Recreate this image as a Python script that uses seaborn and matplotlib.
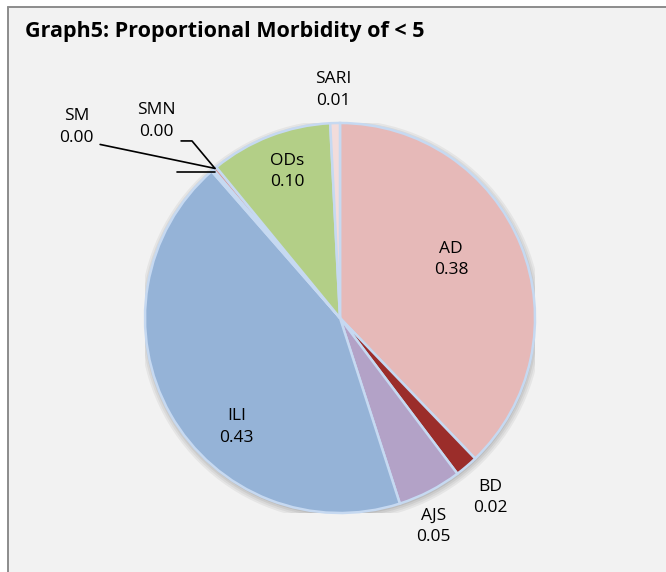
import matplotlib.pyplot as plt
import numpy as np
import seaborn as sns
from matplotlib.lines import Line2D
from matplotlib.patches import Circle, Rectangle

# slices clockwise from 12 o'clock
categories = ["AD", "BD", "AJS", "ILI", "SM", "SMN", "ODs", "SARI"]
shares = [0.377, 0.019, 0.053, 0.434, 0.002, 0.003, 0.101, 0.008]
slice_colors = ["#E6B9B8", "#9B2D2A", "#B3A2C7", "#95B3D7",
                "#B9CDE5", "#D99694", "#B3CF87", "#F2DCDB"]
title = "Graph5: Proportional Morbidity of < 5"

# label placement in pie-radius units, relative to the centre
label_pos = {
    "AD": (0.57, 0.30), "BD": (0.77, -0.92), "AJS": (0.48, -1.07),
    "ILI": (-0.53, -0.56), "SM": (-1.35, 0.98), "SMN": (-0.94, 1.01),
    "ODs": (-0.27, 0.75), "SARI": (-0.036, 1.17),
}

sns.set_theme(style="white")
plt.rcParams["font.family"] = ["Open Sans", "DejaVu Sans"]

W, H = 666, 572
fig = plt.figure(figsize=(W / 100, H / 100), dpi=100)
fig.patch.set_facecolor("white")

# chart panel: grey fill, border on the top and left edges only
fig.patches.append(Rectangle((8 / W, 0), 1, 1 - 7 / H, transform=fig.transFigure,
                             facecolor="#F2F2F2", edgecolor="none", zorder=-10))
fig.add_artist(Line2D([8 / W, 8 / W], [0, 1 - 7 / H], color="#8C8C8C", lw=1.4, zorder=-5))
fig.add_artist(Line2D([8 / W, 1], [1 - 7 / H, 1 - 7 / H], color="#8C8C8C", lw=1.4, zorder=-5))

fig.text(25 / W, 1 - 32 / H, title, fontsize=15.5, fontweight="bold",
         va="center", ha="left", color="black")

cx, cy, r = 340, 318, 195
ax = fig.add_axes([(cx - r) / W, (H - cy - r) / H, 2 * r / W, 2 * r / H])
ax.set_facecolor("none")
ax.set_zorder(2)

# soft shadow under the pie
for k, a in enumerate([0.05, 0.05, 0.06, 0.07]):
    ax.add_patch(Circle((0.004, -0.012), 1.03 - k * 0.01, color="black",
                        alpha=a, lw=0, zorder=0))

wedges, _ = ax.pie(shares, colors=slice_colors, startangle=90, counterclock=False,
                   radius=1, normalize=True,
                   wedgeprops=dict(edgecolor="#C6D9F1", linewidth=1.8, zorder=2))

for name, val in zip(categories, shares):
    x, y = label_pos[name]
    ax.text(x, y, f"{name}\n{val:.2f}", ha="center", va="center",
            fontsize=12.5, linespacing=1.45, color="black", zorder=5)

# leader lines for the two tiny slices
tip = wedges[categories.index("SMN")]
th = np.deg2rad((tip.theta1 + tip.theta2) / 2)
tx, ty = np.cos(th), np.sin(th)
ax.plot([-0.815, -0.759, tx], [0.908, 0.908, ty], color="black", lw=1.2,
        zorder=6, clip_on=False)
ax.plot([-1.23, tx], [0.89, ty], color="black", lw=1.2, zorder=6, clip_on=False)
ax.plot([-0.836, tx], [0.749, 0.749], color="black", lw=1.2, zorder=6, clip_on=False)

ax.set_xlim(-1, 1)
ax.set_ylim(-1, 1)
ax.set_aspect("equal")
ax.axis("off")

fig.savefig("out.png", dpi=100, facecolor=fig.get_facecolor())
